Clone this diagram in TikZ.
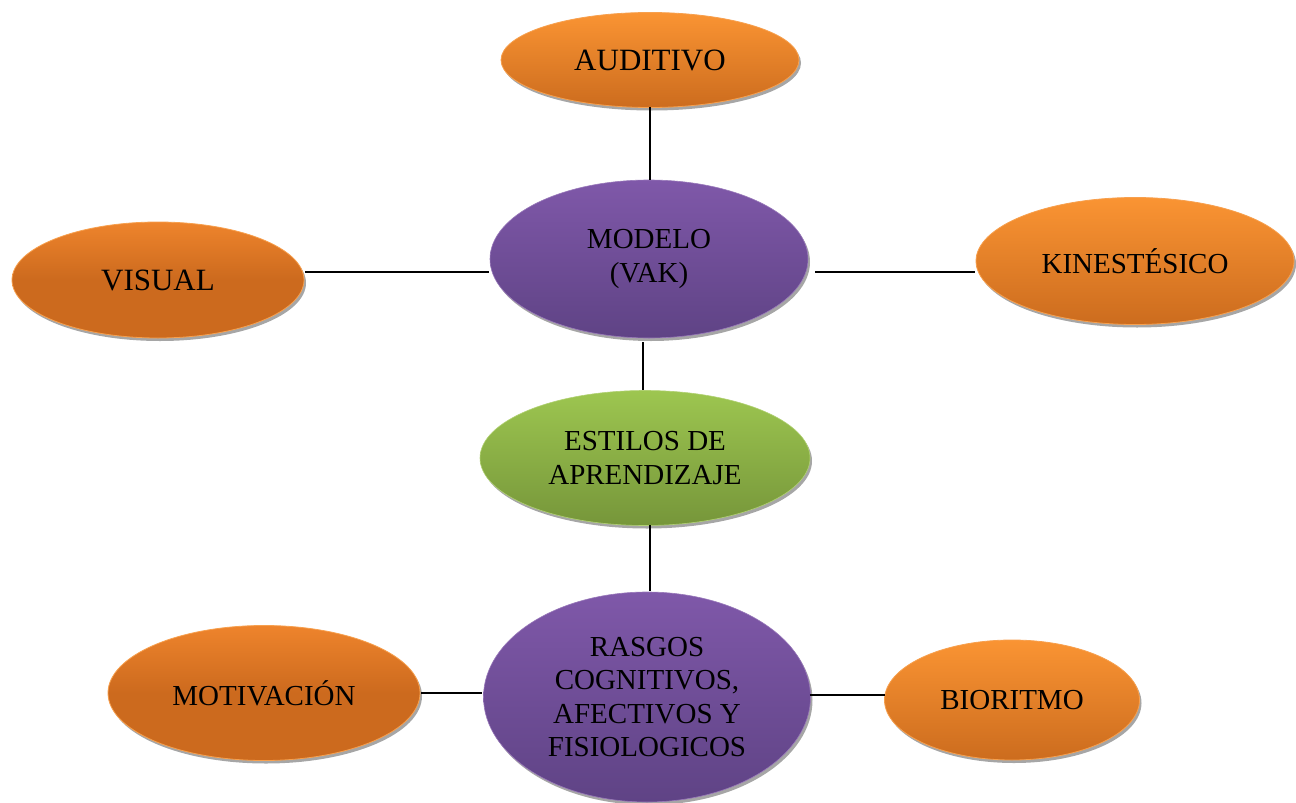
\documentclass[tikz,border=0pt]{standalone}
\usepackage{fontspec}
\setmainfont{Liberation Serif}
\usetikzlibrary{shapes.geometric,shadows}
\definecolor{orTop}{HTML}{FA9433}
\definecolor{orBot}{HTML}{CC6C1E}
\definecolor{orDark}{HTML}{CC6A1E}
\definecolor{orDarkTop}{HTML}{EE842C}
\definecolor{orEdge}{HTML}{F7A04E}
\definecolor{puTop}{HTML}{7F58A9}
\definecolor{puBot}{HTML}{5F4385}
\definecolor{grTop}{HTML}{9DC650}
\definecolor{grBot}{HTML}{76963A}
\tikzset{
  bubble/.style={ellipse, inner sep=0pt, align=center, text=black,
    font=\fontsize{29}{34}\selectfont,
    drop shadow={shadow xshift=2pt, shadow yshift=-3pt, fill=black!35, opacity=1}},
  orangeball/.style={bubble, top color=orTop, bottom color=orBot, draw=orEdge, line width=0.8pt},
  darkorangeball/.style={bubble, top color=orDarkTop, bottom color=orDark, middle color=orDark, draw=orEdge, line width=0.8pt},
  purpleball/.style={bubble, top color=puTop, bottom color=puBot, draw=puTop!80!white, line width=0.6pt},
  greenball/.style={bubble, top color=grTop, bottom color=grBot, draw=grTop!80!white, line width=0.6pt},
  link/.style={draw=black, line width=1.1pt}
}
\begin{document}
\begin{tikzpicture}[x=1pt,y=-1pt]
\useasboundingbox (0,0) rectangle (1296,803);
% connectors (drawn first, covered by the ellipses)
\coordinate (lvA) at (650,0);
\node[orangeball, minimum width=298pt, minimum height=95pt, font=\fontsize{31}{36}\selectfont] (aud) at (650,60) {AUDITIVO};
\node[purpleball, minimum width=318pt, minimum height=158pt] (mod) at (649,259) {MODELO\\(VAK)};
\node[darkorangeball, minimum width=292pt, minimum height=116pt, font=\fontsize{31}{36}\selectfont] (vis) at (158,280) {VISUAL};
\node[orangeball, minimum width=318pt, minimum height=127pt] (kin) at (1135,261) {KINESTÉSICO};
\node[greenball, minimum width=330pt, minimum height=135pt] (est) at (645,458) {ESTILOS DE\\APRENDIZAJE};
\node[purpleball, minimum width=327pt, minimum height=210pt, font=\fontsize{29}{33.5}\selectfont] (ras) at (647,697) {RASGOS\\COGNITIVOS,\\AFECTIVOS Y\\FISIOLOGICOS};
\node[darkorangeball, minimum width=312pt, minimum height=135pt] (mot) at (264,693) {MOTIVACIÓN};
\node[orangeball, minimum width=255pt, minimum height=120pt] (bio) at (1012,700) {BIORITMO};
% connectors
\draw[link] (aud.south |- 0,107) -- (aud.south |- 0,180);
\draw[link] ([xshift=1pt]vis.east |- 0,272) -- ([xshift=-1pt]mod.west |- 0,272);
\draw[link] ([xshift=7pt]mod.east |- 0,272) -- ([xshift=-1pt]kin.west |- 0,272);
\draw[link] ([xshift=-6pt]mod.south |- 0,342) -- ([xshift=-2pt]est.north |- 0,390);
\draw[link] ([xshift=5pt]est.south |- 0,525) -- ([xshift=3pt]ras.north |- 0,591);
\draw[link] ([xshift=1pt]mot.east |- 0,693) -- ([xshift=-1pt]ras.west |- 0,693);
\draw[link] ([xshift=-1pt]ras.east |- 0,695) -- ([xshift=1pt]bio.west |- 0,695);
\end{tikzpicture}
\end{document}
